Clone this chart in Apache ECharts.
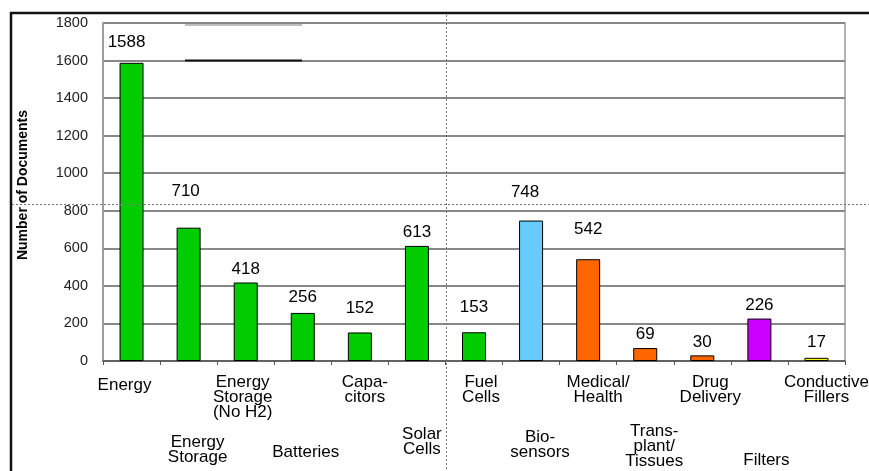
<!DOCTYPE html>
<html>
<head>
<meta charset="utf-8">
<script src="https://cdn.jsdelivr.net/npm/echarts@6/dist/echarts.min.js"></script>
<style>
  html, body { margin: 0; padding: 0; background: #fff; }
  #main { width: 869px; height: 471px; }
</style>
</head>
<body>
<div id="main"></div>
<script>
// categories as printed under the axis (two staggered rows)
const categories = [
  'Energy', 'Energy\nStorage', 'Energy\nStorage\n(No H2)', 'Batteries', 'Capa-\ncitors',
  'Solar\nCells', 'Fuel\nCells', 'Bio-\nsensors', 'Medical/\nHealth', 'Trans-\nplant/\nTissues',
  'Drug\nDelivery', 'Filters', 'Conductive\nFillers'
]
const documents = [1588, 710, 418, 256, 152, 613, 153, 748, 542, 69, 30, 226, 17]
const yTicks = [0, 200, 400, 600, 800, 1000, 1200, 1400, 1600, 1800]

const barColors = ['#00cc00', '#00cc00', '#00cc00', '#00cc00', '#00cc00', '#00cc00', '#00cc00',
  '#66ccff', '#ff6600', '#ff6600', '#ff6600', '#cc00ff', '#ffff00']
// the value labels do not all sit right on top of their bars
const labelShift = [[-5, -7], [-3, -23], [0, 0], [0, -2], [0, -11], [0, 0], [0, -11],
  [-6, -15], [0, -16], [0, 0], [0, 0], [0, 0], [0, -2]]
// category labels are nudged off the bar centres (x) and up/down (padding) in the original
const catDx = [-7, 9, -3, 3, 5, 5, 7, 9, 10, 9, 8, 7, 10]
const catPadY = [5, 0, 0, 4, 0, -16, 0, -10, 0, -8, 0, 20, 0]

const barData = documents.map((v, i) => ({
  value: v,
  itemStyle: { color: barColors[i] },
  label: { offset: labelShift[i] }
}))

const font = 'Arial, "Liberation Sans", sans-serif'

const catRich = {}
categories.forEach((c, i) => {
  const dx = catDx[i], py = catPadY[i]
  catRich['c' + i] = {
    fontSize: 17, lineHeight: 15, color: '#000', fontFamily: font,
    padding: [py > 0 ? py : 0, dx < 0 ? -2 * dx : 0, py < 0 ? -py : 0, dx > 0 ? 2 * dx : 0]
  }
})
const catFormat = (v, i) => '{c' + i + '|' + v + '}'

option = {
  animation: false,
  grid: {
    left: 103, right: 24, top: 23, bottom: 110,
    outerBoundsMode: 'none',
    show: true, borderColor: '#999', borderWidth: 1.5
  },
  xAxis: [
    {
      type: 'category',
      data: categories,
      position: 'bottom',
      axisLine: { lineStyle: { color: '#555', width: 1.5 } },
      axisTick: { show: true, interval: 0, length: 4, lineStyle: { color: '#555' } },
      axisLabel: {
        interval: (i) => i % 2 === 0,
        margin: 14,
        verticalAlign: 'top',
        lineHeight: 15,
        fontSize: 17,
        fontFamily: font,
        formatter: catFormat,
        rich: catRich
      }
    },
    {
      type: 'category',
      data: categories,
      position: 'bottom',
      axisLine: { show: false },
      axisTick: { show: false },
      axisLabel: {
        interval: (i) => i % 2 === 1,
        margin: 89,
        verticalAlign: 'middle',
        lineHeight: 15,
        fontSize: 17,
        fontFamily: font,
        formatter: catFormat,
        rich: catRich
      }
    }
  ],
  yAxis: {
    type: 'value',
    min: yTicks[0],
    max: yTicks[yTicks.length - 1],
    interval: yTicks[1] - yTicks[0],
    name: 'Number of Documents',
    nameLocation: 'middle',
    nameRotate: 90,
    nameGap: 73,
    nameTextStyle: { color: '#000', fontSize: 14, fontWeight: 'bold', fontFamily: font, padding: [0, 0, 0, 14] },
    axisLine: { show: true, lineStyle: { color: '#999', width: 1.5 } },
    axisTick: { show: false },
    axisLabel: { margin: 15, color: '#222', fontSize: 14.5, fontFamily: font, formatter: (v) => String(v) },
    splitLine: { lineStyle: { color: '#888', width: 2 } }
  },
  series: [
    {
      type: 'bar',
      data: barData,
      barWidth: 24,
      itemStyle: { borderColor: '#000', borderWidth: 1 },
      label: {
        show: true,
        position: 'top',
        distance: 5,
        color: '#000',
        fontSize: 17,
        fontFamily: font
      }
    }
  ],
  // frame and guide lines that are part of the captured picture
  graphic: [
    { type: 'line', z: 100, shape: { x1: 11, y1: 12, x2: 11, y2: 471 }, style: { stroke: '#111', lineWidth: 2.5 } },
    { type: 'line', z: 100, shape: { x1: 10, y1: 13, x2: 869, y2: 13 }, style: { stroke: '#111', lineWidth: 2.5 } },
    { type: 'line', z: 100, shape: { x1: 185, y1: 25, x2: 302, y2: 25 }, style: { stroke: '#aaa', lineWidth: 1.5 } },
    { type: 'line', z: 100, shape: { x1: 185, y1: 60.5, x2: 302, y2: 60.5 }, style: { stroke: '#111', lineWidth: 2 } },
    { type: 'line', z: 100, shape: { x1: 446.5, y1: 15, x2: 446.5, y2: 471 }, style: { stroke: '#777', lineWidth: 1, lineDash: [2, 2] } },
    { type: 'line', z: 100, shape: { x1: 12, y1: 204.5, x2: 869, y2: 204.5 }, style: { stroke: '#777', lineWidth: 1, lineDash: [2, 2] } }
  ]
}

echarts.init(document.getElementById('main')).setOption(option)
</script>
</body>
</html>
